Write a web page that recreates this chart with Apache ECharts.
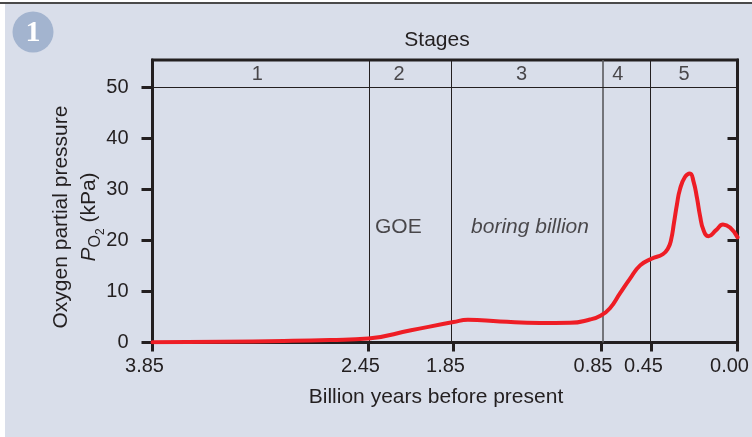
<!DOCTYPE html>
<html>
<head>
<meta charset="utf-8">
<script src="https://cdn.jsdelivr.net/npm/echarts@6/dist/echarts.min.js"></script>
<style>
  html, body { margin: 0; padding: 0; background: #ffffff; }
  #chart { width: 752px; height: 437px; }
</style>
</head>
<body>
<div id="chart"></div>
<script>
// Stage boundaries on the time axis (billion years before present)
const stageBounds = [3.85, 2.45, 1.85, 0.85, 0.45, 0.00];
const boundLabels = ['3.85', '2.45', '1.85', '0.85', '0.45', '0.00'];
// Stage numbers and where each is written along the top band (Ga)
const stageNames = ['1', '2', '3', '4', '5'];
const stageLabelAge = [3.17, 2.234, 1.388, 0.716, 0.28];

// Atmospheric oxygen partial pressure through time
const ageGa = [3.85, 3.4, 3.0, 2.7, 2.45, 2.15, 1.85, 1.752, 1.535, 1.264, 1.06, 0.925, 0.85,
               0.779, 0.70, 0.62, 0.54, 0.45, 0.390, 0.364, 0.348, 0.332, 0.317, 0.301, 0.275,
               0.249, 0.230, 0.212, 0.196, 0.178, 0.152, 0.112, 0.076, 0.039, 0.00];
const pO2kPa = [0.05, 0.15, 0.3, 0.5, 0.8, 2.4, 4.0, 4.45, 4.1, 3.8, 3.85, 4.5, 5.3,
                6.7, 9.6, 12.5, 15.1, 16.4, 17.3, 18.4, 20.0, 23.5, 27.0, 30.0, 32.4,
                33.1, 31.5, 28.3, 24.8, 22.0, 20.8, 22.0, 23.1, 22.5, 20.6];

// Text annotations inside the plot
const noteText = ['GOE', 'boring billion'];
const noteAge = [2.404, 1.731];
const noteValue = [22.6, 22.6];
const noteItalic = [false, true];

// Y ticks
const yTicks = [0, 10, 20, 30, 40, 50];

// The time axis is stretched per stage: relative width of each stage on the axis
const stageAxisWeight = [216, 85, 147.5, 50.5, 86];
const weightSum = stageAxisWeight.reduce((a, b) => a + b, 0);
const knotPos = [0];
stageAxisWeight.forEach((w, i) => knotPos.push(knotPos[i] + w / weightSum));

function warp(age) {
  for (let i = 0; i < stageBounds.length - 1; i++) {
    const a = stageBounds[i], b = stageBounds[i + 1];
    if (age <= a && age >= b) {
      const t = (a - age) / (a - b);
      return knotPos[i] + t * (knotPos[i + 1] - knotPos[i]);
    }
  }
  return age > stageBounds[0] ? 0 : 1;
}

const FONT = '"Liberation Sans", Arial, Helvetica, sans-serif';
const INK = '#231f20';
const BG = '#d9deea';
const yMax = 55.3;

const chart = echarts.init(document.getElementById('chart'), null, { renderer: 'canvas' });

const curve = ageGa.map((a, i) => [warp(a), pO2kPa[i]]);
const stageLabels = stageNames.map((s, i) => ({ value: [warp(stageLabelAge[i]), 52.55], name: s }));
const notes = noteText.map((t, i) => ({
  value: [warp(noteAge[i]), noteValue[i]],
  name: t,
  label: { fontStyle: noteItalic[i] ? 'italic' : 'normal' }
}));

const boundaryStyle = [
  { color: INK, width: 1 },
  { color: INK, width: 1 },
  { color: '#5a5a5e', width: 1.6 },
  { color: INK, width: 1 }
];

chart.setOption({
  backgroundColor: '#ffffff',
  animation: false,
  textStyle: { fontFamily: FONT, color: INK },
  grid: {
    left: 152.5, right: 14.5, top: 60, bottom: 94.5,
    show: true, borderColor: INK, borderWidth: 3, backgroundColor: 'transparent'
  },
  xAxis: {
    type: 'value', min: 0, max: 1,
    splitLine: { show: false },
    axisLine: { show: true, lineStyle: { color: INK, width: 3 } },
    axisTick: { show: true, customValues: knotPos, length: 9, lineStyle: { color: INK, width: 3 } },
    axisLabel: {
      customValues: knotPos,
      margin: 14,
      fontSize: 20,
      color: INK,
      padding: [0, 16, 0, 0],
      formatter: (v) => {
        let best = 0;
        knotPos.forEach((k, i) => { if (Math.abs(k - v) < Math.abs(knotPos[best] - v)) best = i; });
        return boundLabels[best];
      }
    },
    name: 'Billion years before present',
    nameLocation: 'middle',
    nameGap: 44,
    nameTextStyle: { fontSize: 21, color: INK, padding: [0, 18, 0, 0] }
  },
  yAxis: [
    {
      type: 'value', min: 0, max: yMax,
      splitLine: { show: false },
      axisLine: { show: true, lineStyle: { color: INK, width: 3 } },
      axisTick: { show: true, customValues: yTicks, length: 11, lineStyle: { color: INK, width: 3 } },
      axisLabel: { customValues: yTicks, margin: 24, fontSize: 20, color: INK }
    },
    {
      type: 'value', min: 0, max: yMax, position: 'right',
      splitLine: { show: false },
      axisLine: { show: true, lineStyle: { color: INK, width: 3 } },
      axisTick: { show: true, inside: true, customValues: [10, 20, 30, 40], length: 10, lineStyle: { color: INK, width: 3 } },
      axisLabel: { show: false }
    }
  ],
  series: [
    {
      // stage boundaries and the stage band divider
      type: 'line',
      data: [],
      silent: true,
      markLine: {
        silent: true,
        symbol: ['none', 'none'],
        label: { show: false },
        data: stageBounds.slice(1, 5).map((b, i) => ({ xAxis: warp(b), lineStyle: boundaryStyle[i] }))
          .concat([{ yAxis: 50, lineStyle: { color: INK, width: 1 } }]),
        lineStyle: { type: 'solid' }
      },
      z: 1
    },
    {
      type: 'line',
      data: curve,
      smooth: 0.5,
      showSymbol: false,
      lineStyle: { color: '#ee1d25', width: 4, cap: 'round', join: 'round' },
      z: 5
    },
    {
      type: 'scatter',
      data: stageLabels,
      symbolSize: 0,
      silent: true,
      label: { show: true, position: 'inside', formatter: '{b}', fontSize: 20, color: INK, textBorderWidth: 0 }
    },
    {
      type: 'scatter',
      data: notes,
      symbolSize: 0,
      silent: true,
      label: { show: true, position: 'right', distance: 0, formatter: '{b}', fontSize: 21, color: INK, textBorderWidth: 0 }
    }
  ],
  graphic: [
    { type: 'rect', z: -10, shape: { x: 5, y: 4, width: 747, height: 433 }, style: { fill: BG } },
    { type: 'line', z: -9, shape: { x1: 0, y1: 3, x2: 752, y2: 3 }, style: { stroke: '#4a4a4a', lineWidth: 2 } },
    { type: 'circle', shape: { cx: 33, cy: 32, r: 20.5 }, style: { fill: '#a3b4cf' } },
    {
      type: 'text', x: 33, y: 33,
      style: { text: '1', fill: '#ffffff', font: 'bold 30px "Liberation Serif", "Times New Roman", serif', align: 'center', verticalAlign: 'middle' }
    },
    {
      type: 'text', x: 437, y: 40,
      style: { text: 'Stages', fill: INK, font: '21px ' + FONT, align: 'center', verticalAlign: 'middle' }
    },
    {
      type: 'text', x: 79, y: 217, rotation: Math.PI / 2,
      style: {
        text: '{t|Oxygen partial pressure}\n{p|P}{o|O}{n|2}{t| (kPa)}',
        fill: INK, align: 'center', verticalAlign: 'middle',
        font: '21px ' + FONT,
        rich: {
          t: { fontSize: 21, fontFamily: FONT, lineHeight: 28, verticalAlign: 'top', fill: INK },
          p: { fontSize: 21, fontFamily: FONT, fontStyle: 'italic', lineHeight: 28, verticalAlign: 'top', fill: INK },
          o: { fontSize: 16, fontFamily: FONT, lineHeight: 28, padding: [9, 0, 0, 0], verticalAlign: 'top', fill: INK },
          n: { fontSize: 12, fontFamily: FONT, lineHeight: 28, padding: [16, 0, 0, 0], verticalAlign: 'top', fill: INK }
        }
      }
    }
  ]
});
</script>
</body>
</html>
